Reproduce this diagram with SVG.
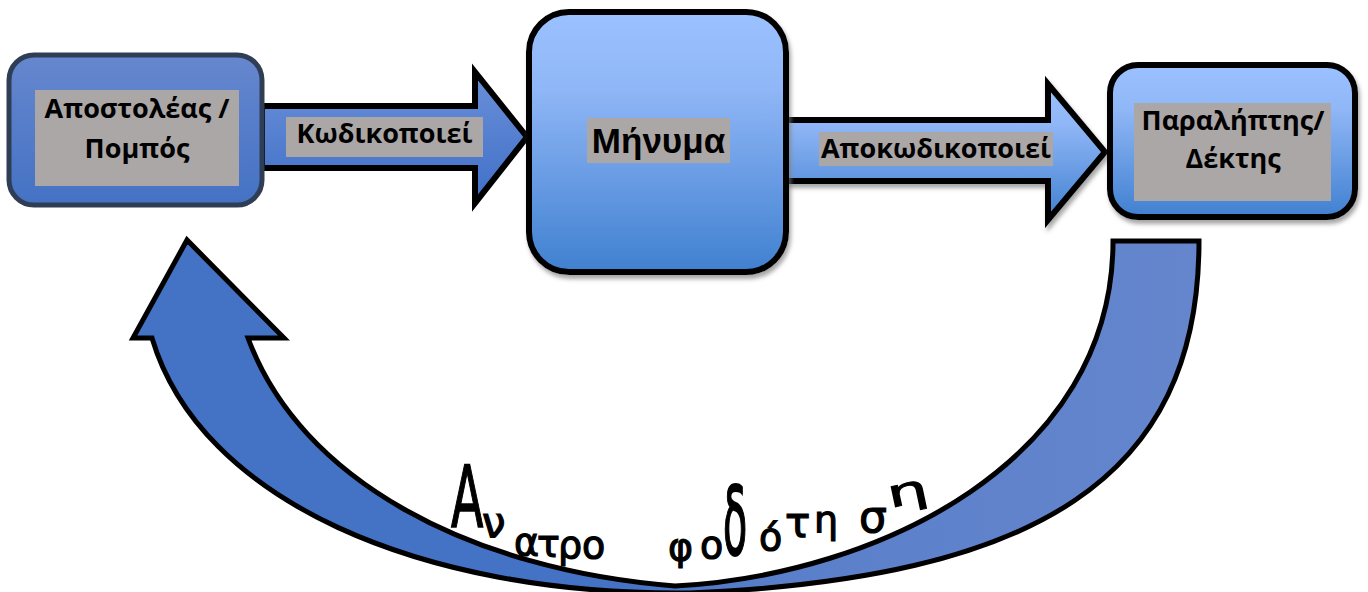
<svg xmlns="http://www.w3.org/2000/svg" width="1368" height="592" viewBox="0 0 1368 592">
<defs>
<linearGradient id="gDark" x1="0" y1="0" x2="0" y2="1">
<stop offset="0" stop-color="#6687ce"/><stop offset="1" stop-color="#4472c4"/>
</linearGradient>
<linearGradient id="gArrow1" x1="0" y1="0" x2="0" y2="1">
<stop offset="0" stop-color="#6a8fd8"/><stop offset="1" stop-color="#4070c8"/>
</linearGradient>
<linearGradient id="gLight" x1="0" y1="0" x2="0" y2="1">
<stop offset="0" stop-color="#9bc1ff"/><stop offset="0.3" stop-color="#8fb6f6"/><stop offset="1" stop-color="#4080d0"/>
</linearGradient>
<linearGradient id="gU" gradientUnits="userSpaceOnUse" x1="130" y1="0" x2="1210" y2="0">
<stop offset="0" stop-color="#4472c4"/><stop offset="0.45" stop-color="#4472c4"/><stop offset="0.6" stop-color="#5a7fca"/><stop offset="1" stop-color="#6586cd"/>
</linearGradient>
<filter id="shadow" x="-10%" y="-10%" width="130%" height="130%">
<feDropShadow dx="2" dy="4" stdDeviation="2" flood-color="#808080" flood-opacity="0.7"/>
</filter>
</defs>
<style>
.lbl{fill:#aba7a6}
.t{font-family:"Open Sans","DejaVu Sans",sans-serif;font-weight:bold;font-size:27px;fill:#000;text-anchor:middle}
.big{font-family:"Liberation Sans",Arial,sans-serif;font-weight:bold;font-size:35px;fill:#000;text-anchor:middle}
.hw{font-family:"DejaVu Sans",sans-serif;font-size:38px;fill:#000;stroke:#000;stroke-width:1.2}
</style>
<g id="connectors">
<path id="arrow-encode" d="M262,106 L475,106 L475,72 L527,137 L475,203 L475,168 L262,168 Z" fill="url(#gArrow1)" stroke="#000" stroke-width="6" stroke-linejoin="miter"/>
<path id="arrow-decode" d="M786,120 L1048,120 L1048,84 L1105,152 L1048,220 L1048,181 L786,181 Z" fill="url(#gLight)" stroke="#000" stroke-width="6" filter="url(#shadow)"/>
<path id="arrow-feedback" d="M1113,241 L1199,241 C1199,480 1035,578 690,593 C420,596 200,500 152,338 L133,338 L187,240 L284,338 L248,338 C300,480 470,570 675,586 C880,575 1113,460 1113,241 Z" fill="url(#gU)" stroke="#000" stroke-width="5" stroke-linejoin="miter"/>
</g>
<g id="node-sender">
<rect x="9" y="55" width="253" height="150" rx="25" fill="url(#gDark)" stroke="#2f3e55" stroke-width="5"/>
<rect class="lbl" x="35" y="90" width="204" height="96"/>
<text class="t" x="137" y="118">Αποστολέας /</text>
<text class="t" x="137" y="158">Πομπός</text>
</g>
<g id="node-message">
<rect x="529" y="12" width="257" height="260" rx="40" fill="url(#gLight)" stroke="#000" stroke-width="6" filter="url(#shadow)"/>
<rect class="lbl" x="587" y="118" width="143" height="45"/>
<text class="big" x="658.5" y="153">Μήνυμα</text>
</g>
<g id="node-receiver">
<rect x="1110" y="65" width="245" height="152" rx="28" fill="url(#gLight)" stroke="#000" stroke-width="6" filter="url(#shadow)"/>
<rect class="lbl" x="1134" y="103" width="197" height="98"/>
<text class="t" x="1233" y="130">Παραλήπτης/</text>
<text class="t" x="1233" y="168">Δέκτης</text>
</g>
<g id="connector-labels">
<rect class="lbl" x="286" y="117" width="197" height="40"/>
<text class="t" x="384.5" y="143">Κωδικοποιεί</text>
<rect class="lbl" x="819" y="132" width="234" height="34"/>
<text class="t" x="936" y="158">Αποκωδικοποιεί</text>
</g>
<g id="feedback-label" class="hw">
<text transform="translate(451,527) scale(0.55,1)" font-size="86" stroke-width="1.6">Α</text>
<text x="482" y="537" font-size="42">ν</text>
<text x="514" y="555">α</text>
<text x="537" y="557">τ</text>
<text x="558" y="558">ρ</text>
<text x="582" y="558">ο</text>
<text x="668" y="560">φ</text>
<text x="700" y="558">ο</text>
<text transform="translate(723,555) scale(0.42,1)" font-size="94" stroke-width="2">δ</text>
<text x="759" y="550">ό</text>
<text x="785" y="537" font-size="42">τ</text>
<text x="814" y="533">η</text>
<text x="859" y="532" font-size="44">σ</text>
<text transform="translate(890,508) rotate(-12) scale(1.7,1)" stroke-width="0.9">η</text>
</g>
</svg>
